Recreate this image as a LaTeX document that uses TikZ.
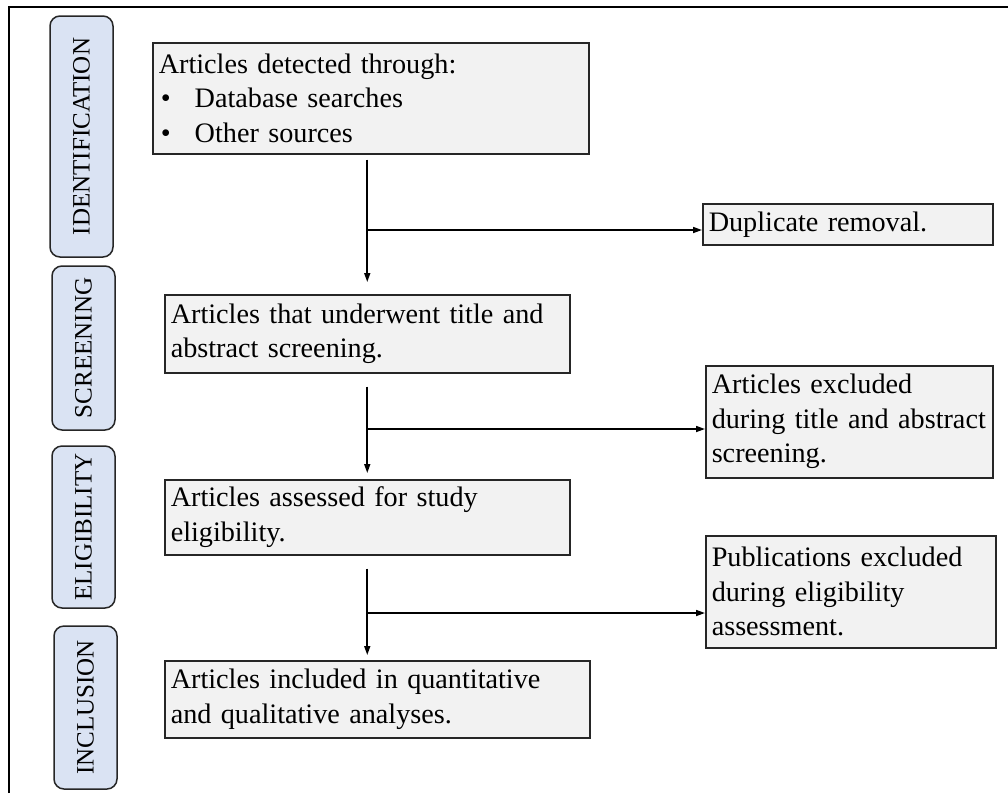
\documentclass[tikz,border=0pt]{standalone}
\usepackage{fontspec}
\setmainfont{Liberation Serif}
\usetikzlibrary{arrows.meta}
\definecolor{phaseblue}{HTML}{DAE3F3}
\definecolor{boxgray}{HTML}{F2F2F2}

\begin{document}
\begin{tikzpicture}
    [x=1pt, y=-1pt,
     phase/.style={draw=black!85, line width=1.5pt, rounded corners=10pt, fill=phaseblue,
       rotate=90, minimum height=63pt, inner sep=0pt, font=\fontsize{25}{30}\selectfont},
     stage/.style={draw=black!85, line width=1.5pt, fill=boxgray, anchor=north west,
       align=left, inner xsep=6pt, inner ysep=0pt, font=\fontsize{28.2}{34.5}\selectfont},
     flow/.style={-{Triangle[length=9pt,width=6pt]}, line width=1.6pt}]
    \useasboundingbox (0, 0) rectangle (1008, 793);
    \draw[line width=2pt] (9, 793) -- (9, 7) -- (1008, 7);
    % phases
    \node[phase, minimum width=241pt] (identification) at (81.5, 136.5) {IDENTIFICATION};
    \node[phase, minimum width=164pt] (screening) at (83.5, 348) {SCREENING};
    \node[phase, minimum width=162pt] (eligibility) at (83.5, 527) {ELIGIBILITY};
    \node[phase, minimum width=163pt] (inclusion) at (85.5, 707.5) {INCLUSION};
    % main column
    \node[stage, text width=424pt, minimum height=111pt] (detected) at (152, 42)
      {Articles detected through:\\
       \makebox[36pt][l]{\kern2pt\textbullet}Database searches\\
       \makebox[36pt][l]{\kern2pt\textbullet}Other sources};
    \node[stage, text width=393pt, minimum height=78pt] (screened) at (164, 294)
      {Articles that underwent title and\\abstract screening.};
    \node[stage, text width=393pt, minimum height=75pt] (assessed) at (164, 479)
      {Articles assessed for study\\eligibility.};
    \node[stage, text width=413pt, minimum height=77pt] (included) at (164, 660)
      {Articles included in quantitative\\and qualitative analyses.};
    % exclusions
    \node[stage, text width=278pt, minimum height=41pt] (duplicates) at (702, 203)
      {Duplicate removal.};
    \node[stage, text width=275pt, minimum height=112pt] (excluded) at (705, 365)
      {Articles excluded\\\mbox{during title and abstract}\\screening.};
    \node[stage, text width=278pt, minimum height=112pt] (rejected) at (705, 535)
      {Publications excluded\\during eligibility\\assessment.};
    % arrows
    \coordinate (split1) at (366.5, 230);
    \coordinate (split2) at (366.5, 429);
    \coordinate (split3) at (366.5, 613);
    \draw[flow, shorten <=5pt, shorten >=12pt] (detected.south -| screened.north) -- (screened.north);
    \draw[flow] (split1) -- (split1 -| duplicates.west);
    \draw[flow, shorten <=13pt, shorten >=6pt] (screened.south) -- (assessed.north);
    \draw[flow] (split2) -- (split2 -| excluded.west);
    \draw[flow, shorten <=13pt, shorten >=5pt] (assessed.south) -- (assessed.south |- included.north);
    \draw[flow] (split3) -- (split3 -| rejected.west);
\end{tikzpicture}
\end{document}
